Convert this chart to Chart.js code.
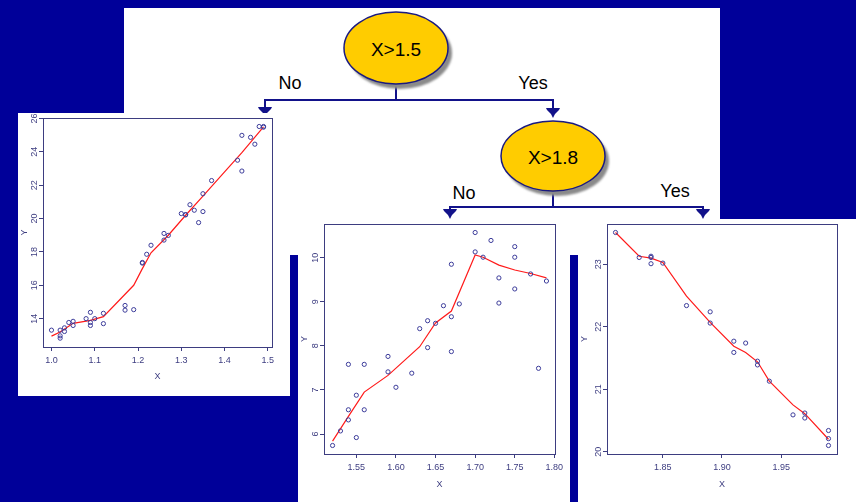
<!DOCTYPE html>
<html>
<head>
<meta charset="utf-8">
<script src="https://cdn.jsdelivr.net/npm/chart.js@4/dist/chart.umd.min.js"></script>
<style>
  html, body { margin: 0; padding: 0; }
  body {
    width: 856px; height: 502px; position: relative; overflow: hidden;
    background: #000099;
    font-family: 'Liberation Sans', Arial, sans-serif;
  }
  .sheet { position: absolute; left: 124px; top: 8px; width: 596px; height: 247px; background: #ffffff; }
  svg.tree { position: absolute; left: 0; top: 0; }
  canvas.panel { position: absolute; background: #ffffff; }
</style>
</head>
<body>
<div class="sheet"></div>

<svg class="tree" width="856" height="502" xmlns="http://www.w3.org/2000/svg">
  <defs>
    <filter id="soft" x="-30%" y="-30%" width="160%" height="160%">
      <feGaussianBlur stdDeviation="1.3"/>
    </filter>
    <path id="head" d="M-7,0 H7 L6,2 Q2,5 0,10 Q-2,5 -6,2 Z"/>
  </defs>

  <!-- branches -->
  <g stroke="#12128a" stroke-width="2" fill="none">
    <line x1="396" y1="84" x2="396" y2="100"/>
    <line x1="264" y1="100" x2="554" y2="100"/>
    <line x1="265" y1="100" x2="265" y2="108"/>
    <line x1="553" y1="100" x2="553" y2="108"/>
    <line x1="553" y1="190" x2="553" y2="207"/>
    <line x1="449" y1="207" x2="704" y2="207"/>
    <line x1="450" y1="207" x2="450" y2="210"/>
    <line x1="703" y1="207" x2="703" y2="210"/>
  </g>
  <g fill="#12128a">
    <use href="#head" transform="translate(265,107)"/>
    <use href="#head" transform="translate(553,108)"/>
    <use href="#head" transform="translate(450,209)"/>
    <use href="#head" transform="translate(703,209)"/>
  </g>

  <!-- split nodes -->
  <ellipse cx="400" cy="53" rx="52" ry="36" fill="#8a8a8a" filter="url(#soft)"/>
  <ellipse cx="396" cy="48" rx="52" ry="36" fill="#ffcc00" stroke="#1a1a80" stroke-width="1.5"/>
  <text x="396" y="49" text-anchor="middle" dominant-baseline="central" font-size="19" fill="#000">X&gt;1.5</text>

  <ellipse cx="557" cy="161" rx="52" ry="35" fill="#8a8a8a" filter="url(#soft)"/>
  <ellipse cx="553" cy="156" rx="52" ry="35" fill="#ffcc00" stroke="#1a1a80" stroke-width="1.5"/>
  <text x="553" y="157" text-anchor="middle" dominant-baseline="central" font-size="19" fill="#000">X&gt;1.8</text>

  <!-- branch labels -->
  <g font-size="18" fill="#000" text-anchor="middle" dominant-baseline="central">
    <text x="290" y="83">No</text>
    <text x="533" y="83">Yes</text>
    <text x="464" y="193">No</text>
    <text x="675" y="191">Yes</text>
  </g>
</svg>

<canvas id="leafLeft" class="panel" width="272" height="283" style="left:18px;top:113px;"></canvas>
<canvas id="leafMid" class="panel" width="272" height="283" style="left:298px;top:219px;"></canvas>
<canvas id="leafRight" class="panel" width="278" height="283" style="left:578px;top:219px;"></canvas>

<script>
// ---- Leaf X <= 1.5 ----
const leftX = [1.00, 1.02, 1.02, 1.02, 1.03, 1.03, 1.04, 1.05, 1.05, 1.08, 1.09, 1.09, 1.09, 1.10,
               1.12, 1.12, 1.17, 1.17, 1.19, 1.21, 1.21, 1.22, 1.23, 1.26, 1.26, 1.27, 1.30, 1.31,
               1.31, 1.32, 1.33, 1.34, 1.35, 1.35, 1.37, 1.43, 1.44, 1.44, 1.46, 1.47, 1.48, 1.49, 1.49];
const leftY = [13.31, 13.31, 12.97, 12.83, 13.45, 13.23, 13.77, 13.84, 13.59, 14.00, 14.38, 13.77, 13.59, 14.00,
               14.32, 13.70, 14.79, 14.51, 14.54, 17.37, 17.33, 17.86, 18.40, 19.11, 18.71, 18.99, 20.30, 20.24,
               20.22, 20.83, 20.50, 19.76, 21.49, 20.42, 22.28, 23.50, 24.99, 22.85, 24.87, 24.46, 25.52, 25.52, 25.48];
const leftFitX = [1.00, 1.02, 1.05, 1.09, 1.12, 1.19, 1.21, 1.23, 1.27, 1.31, 1.35, 1.40, 1.44, 1.49];
const leftFitY = [12.95, 13.20, 13.72, 13.90, 14.12, 16.00, 17.00, 17.95, 19.00, 20.20, 21.35, 22.80, 23.95, 25.50];
const leftXTicks = [1.0, 1.1, 1.2, 1.3, 1.4, 1.5];
const leftXLabels = ['1.0', '1.1', '1.2', '1.3', '1.4', '1.5'];
const leftYTicks = [14, 16, 18, 20, 22, 24, 26];
const leftYLabels = ['14', '16', '18', '20', '22', '24', '26'];

// ---- Leaf 1.5 < X <= 1.8 ----
const midX = [1.52, 1.53, 1.54, 1.54, 1.54, 1.55, 1.55, 1.56, 1.56, 1.59, 1.59, 1.60, 1.62, 1.63, 1.64,
              1.64, 1.65, 1.66, 1.67, 1.67, 1.67, 1.68, 1.70, 1.70, 1.71, 1.72, 1.73, 1.73, 1.75, 1.75,
              1.75, 1.77, 1.78, 1.79];
const midY = [5.74, 6.07, 6.55, 6.32, 7.58, 6.88, 5.92, 7.58, 6.55, 7.76, 7.41, 7.06, 7.38, 8.39, 8.57,
              7.96, 8.51, 8.91, 9.85, 8.66, 7.87, 8.95, 10.57, 10.13, 10.01, 10.39, 9.54, 8.97, 10.25, 10.01,
              9.29, 9.63, 7.49, 9.47];
const midFitX = [1.52, 1.54, 1.56, 1.59, 1.63, 1.65, 1.67, 1.70, 1.71, 1.73, 1.75, 1.77, 1.79];
const midFitY = [5.84, 6.40, 6.95, 7.33, 7.98, 8.52, 8.79, 10.06, 10.01, 9.83, 9.72, 9.64, 9.54];
const midXTicks = [1.55, 1.60, 1.65, 1.70, 1.75, 1.80];
const midXLabels = ['1.55', '1.60', '1.65', '1.70', '1.75', '1.80'];
const midYTicks = [6, 7, 8, 9, 10];
const midYLabels = ['6', '7', '8', '9', '10'];

// ---- Leaf X > 1.8 ----
const rightX = [1.81, 1.83, 1.84, 1.84, 1.84, 1.85, 1.87, 1.89, 1.89, 1.91, 1.91, 1.92, 1.93, 1.93,
                1.94, 1.96, 1.97, 1.97, 1.99, 1.99, 1.99];
const rightY = [23.51, 23.11, 23.13, 23.11, 23.01, 23.02, 22.34, 22.24, 22.06, 21.77, 21.59, 21.74, 21.45, 21.39,
                21.13, 20.59, 20.62, 20.54, 20.34, 20.21, 20.10];
const rightFitX = [1.81, 1.83, 1.84, 1.85, 1.87, 1.89, 1.91, 1.92, 1.93, 1.94, 1.96, 1.97, 1.99];
const rightFitY = [23.51, 23.13, 23.10, 23.03, 22.49, 22.07, 21.69, 21.59, 21.44, 21.13, 20.75, 20.61, 20.20];
const rightXTicks = [1.85, 1.90, 1.95];
const rightXLabels = ['1.85', '1.90', '1.95'];
const rightYTicks = [20, 21, 22, 23];
const rightYLabels = ['20', '21', '22', '23'];

const FRAME = '#3d3d80';
const POINT = '#3c3c9a';
const FIT = '#ff1a1a';
Chart.defaults.font.family = "'Liberation Sans', Arial, sans-serif";

const framePlugin = {
  id: 'frameBox',
  beforeDatasetsDraw(chart) {
    const { ctx, chartArea: a } = chart;
    ctx.save();
    ctx.strokeStyle = FRAME;
    ctx.lineWidth = 1;
    ctx.strokeRect(Math.round(a.left) + 0.5, Math.round(a.top) + 0.5,
                   Math.round(a.right - a.left), Math.round(a.bottom - a.top));
    ctx.restore();
  }
};

function pairs(xs, ys) { return xs.map((x, i) => ({ x: x, y: ys[i] })); }

function leafPlot(id, p) {
  return new Chart(document.getElementById(id), {
    type: 'scatter',
    data: {
      datasets: [
        { data: pairs(p.fitX, p.fitY), showLine: true, borderColor: FIT, borderWidth: 1.2,
          pointRadius: 0, tension: 0, fill: false, order: 2 },
        { data: pairs(p.x, p.y), showLine: false, pointRadius: 2.1, pointBorderWidth: 1,
          pointBorderColor: POINT, pointBackgroundColor: 'rgba(0,0,0,0)', clip: false, order: 1 }
      ]
    },
    options: {
      responsive: false, animation: false, events: [],
      layout: { padding: { top: p.padTop, right: p.padRight, left: 0, bottom: 0 } },
      plugins: { legend: { display: false }, tooltip: { enabled: false } },
      scales: {
        x: {
          type: 'linear', min: p.xMin, max: p.xMax,
          afterBuildTicks: s => { s.ticks = p.xTicks.map(v => ({ value: v })); },
          afterFit: s => { s.height = p.xAxisH; s.paddingLeft = 0; s.paddingRight = 0; },
          grid: { drawOnChartArea: false, drawTicks: true, tickLength: 4, color: FRAME, lineWidth: 1 },
          border: { display: true, color: FRAME, width: 1 },
          ticks: {
            autoSkip: false, maxRotation: 0, minRotation: 0, padding: 4, color: FRAME,
            font: { size: 9, family: "'Liberation Sans Narrow', 'Liberation Sans', Arial, sans-serif" },
            callback: (v, i) => p.xLabels[i]
          },
          title: { display: true, text: 'X', color: FRAME, font: { size: 9 },
                   padding: { top: 0, bottom: p.xTitlePad } }
        },
        y: {
          type: 'linear', min: p.yMin, max: p.yMax,
          afterBuildTicks: s => { s.ticks = p.yTicks.map(v => ({ value: v })); },
          afterFit: s => { s.width = p.yAxisW; s.paddingTop = 0; s.paddingBottom = 0; },
          grid: { drawOnChartArea: false, drawTicks: true, tickLength: 4, color: FRAME, lineWidth: 1 },
          border: { display: true, color: FRAME, width: 1 },
          ticks: {
            autoSkip: false, minRotation: 90, maxRotation: 90, crossAlign: 'center', padding: -0.8,
            color: FRAME, font: { size: 9 },
            callback: (v, i) => p.yLabels[i]
          },
          title: { display: true, text: 'Y', color: FRAME, font: { size: 9 },
                   padding: { top: 1.6, bottom: 0 } }
        }
      }
    },
    plugins: [framePlugin]
  });
}

leafPlot('leafLeft', {
  x: leftX, y: leftY, fitX: leftFitX, fitY: leftFitY,
  xTicks: leftXTicks, xLabels: leftXLabels, yTicks: leftYTicks, yLabels: leftYLabels,
  xMin: 0.9804, xMax: 1.5096, yMin: 12.30, yMax: 26.03,
  padTop: 3, padRight: 18, yAxisW: 25, xAxisH: 49, xTitlePad: 13.9
});

leafPlot('leafMid', {
  x: midX, y: midY, fitX: midFitX, fitY: midFitY,
  xTicks: midXTicks, xLabels: midXLabels, yTicks: midYTicks, yLabels: midYLabels,
  xMin: 1.5092, xMax: 1.8008, yMin: 5.547, yMax: 10.763,
  padTop: 3, padRight: 15, yAxisW: 26, xAxisH: 48, xTitlePad: 12.3
});

leafPlot('leafRight', {
  x: rightX, y: rightY, fitX: rightFitX, fitY: rightFitY,
  xTicks: rightXTicks, xLabels: rightXLabels, yTicks: rightYTicks, yLabels: rightYLabels,
  xMin: 1.8028, xMax: 1.9972, yMin: 19.964, yMax: 23.646,
  padTop: 3, padRight: 19, yAxisW: 29, xAxisH: 48, xTitlePad: 12.3
});
</script>
</body>
</html>
